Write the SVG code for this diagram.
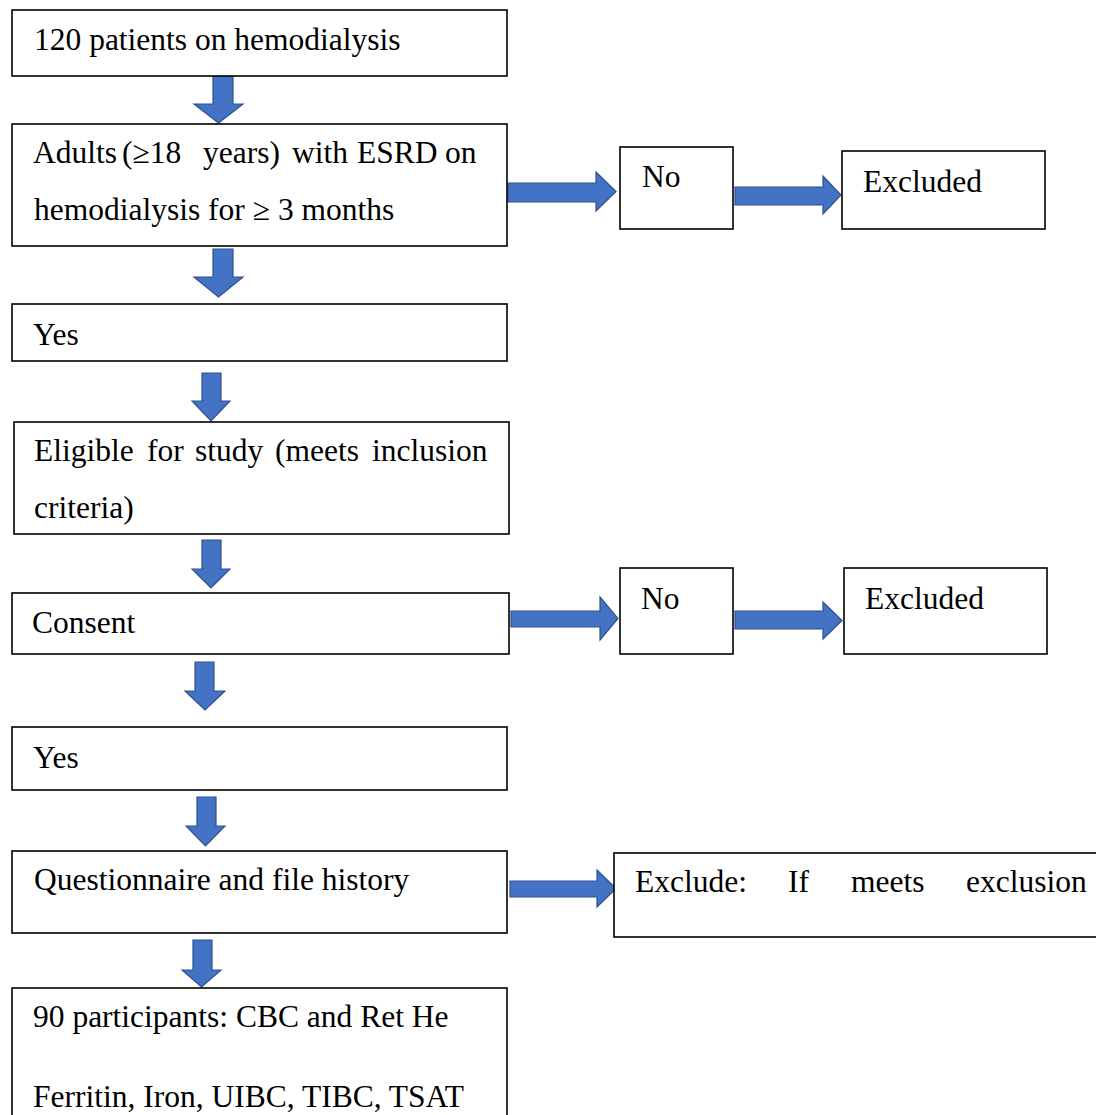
<svg xmlns="http://www.w3.org/2000/svg" width="1096" height="1115" viewBox="0 0 1096 1115">
<style>
.box{fill:#fff;stroke:#000;stroke-width:1.6}
.t{font-family:"Liberation Serif","Times New Roman",serif;font-size:31.5px;fill:#000}
.arr{fill:#4472C4;stroke:#2F528F;stroke-width:1.2}
</style>
<rect width="1096" height="1115" fill="#fff"/>
<g id="connectors">
<path class="arr" d="M213,76 H233 V104 H243 L218.5,123 L194,104 H213 Z"/>
<path class="arr" d="M213,249 H233 V277 H243 L218.5,297 L194,277 H213 Z"/>
<path class="arr" d="M202,373 H221 V401 H230 L211,421 L192,401 H202 Z"/>
<path class="arr" d="M202,540 H221 V569 H230 L211,588 L192,569 H202 Z"/>
<path class="arr" d="M195,662 H214 V691 H225 L205,710 L185,691 H195 Z"/>
<path class="arr" d="M197,797 H216 V826 H225 L205.5,846 L186,826 H197 Z"/>
<path class="arr" d="M193,940 H212 V970 H221 L201.5,987 L182,970 H193 Z"/>
<path class="arr" d="M508,183 H596 V172 L616,191.5 L596,211 V202 H508 Z"/>
<path class="arr" d="M735,187 H823 V176 L841,195 L823,214 V205 H735 Z"/>
<path class="arr" d="M511,611 H600 V597 L618,618.5 L600,640 V627 H511 Z"/>
<path class="arr" d="M735,611 H823 V602 L842,620.5 L823,639 V629 H735 Z"/>
<path class="arr" d="M510,881 H597 V870 L616,888.5 L597,907 V897 H510 Z"/>
</g>
<g id="n1"><rect class="box" x="12" y="10" width="495" height="66"/><text class="t" x="34" y="50">120 patients on hemodialysis</text></g>
<g id="n2"><rect class="box" x="12" y="124" width="495" height="122"/>
<text class="t" y="163"><tspan x="33">Adults</tspan><tspan x="122">(≥18</tspan><tspan x="203">years)</tspan><tspan x="292">with</tspan><tspan x="357">ESRD</tspan><tspan x="445">on</tspan></text>
<text class="t" x="34" y="220">hemodialysis for ≥ 3 months</text></g>
<g id="n3"><rect class="box" x="12" y="304" width="495" height="57"/><text class="t" x="33" y="345">Yes</text></g>
<g id="n4"><rect class="box" x="14" y="422" width="495" height="112"/>
<text class="t" y="461"><tspan x="34">Eligible</tspan><tspan x="147">for</tspan><tspan x="195">study</tspan><tspan x="275">(meets</tspan><tspan x="372">inclusion</tspan></text>
<text class="t" x="34" y="518">criteria)</text></g>
<g id="n5"><rect class="box" x="12" y="593" width="497" height="61"/><text class="t" x="32" y="633">Consent</text></g>
<g id="n6"><rect class="box" x="12" y="727" width="495" height="63"/><text class="t" x="33" y="768">Yes</text></g>
<g id="n7"><rect class="box" x="12" y="851" width="495" height="82"/><text class="t" x="34" y="890">Questionnaire and file history</text></g>
<g id="n8"><rect class="box" x="12" y="988" width="495" height="200"/>
<text class="t" x="33" y="1027">90 participants: CBC and Ret He</text>
<text class="t" x="33" y="1107">Ferritin, Iron, UIBC, TIBC, TSAT</text></g>
<g id="n9"><rect class="box" x="620" y="147" width="113" height="82"/><text class="t" x="642" y="187">No</text></g>
<g id="n10"><rect class="box" x="842" y="151" width="203" height="78"/><text class="t" x="863" y="192">Excluded</text></g>
<g id="n11"><rect class="box" x="620" y="568" width="113" height="86"/><text class="t" x="641" y="609">No</text></g>
<g id="n12"><rect class="box" x="844" y="568" width="203" height="86"/><text class="t" x="865" y="609">Excluded</text></g>
<g id="n13"><rect class="box" x="614" y="853" width="500" height="84"/>
<text class="t" y="892"><tspan x="635">Exclude:</tspan><tspan x="788">If</tspan><tspan x="851">meets</tspan><tspan x="966">exclusion</tspan></text></g>
</svg>
